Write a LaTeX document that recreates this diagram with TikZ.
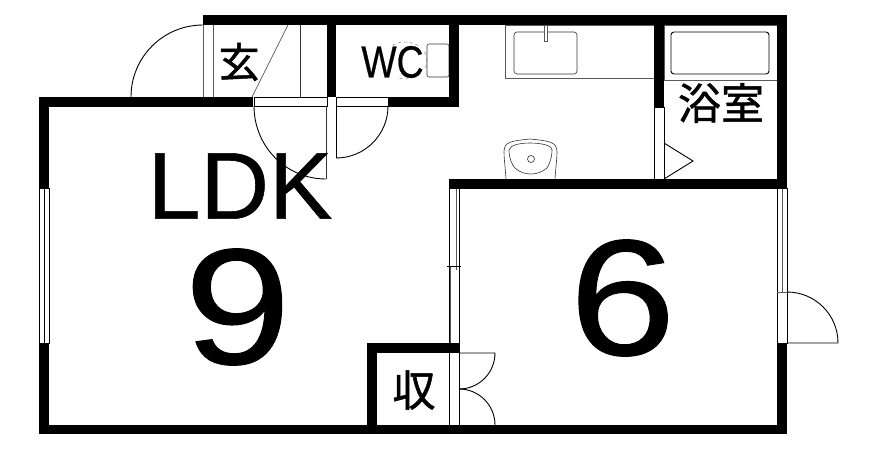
\documentclass[tikz,border=0pt]{standalone}
\usepackage{fontspec}
\setmainfont[FakeBold=0.6]{Liberation Sans}
\newfontfamily\cjkfont[FakeBold=1.2]{Noto Sans CJK JP}
\tikzset{
	wall/.style={fill=black,draw=none},
	thinline/.style={draw=black,line width=0.9pt},
	greyline/.style={draw=black!65,line width=0.9pt},
	fine/.style={draw=black!80,line width=0.6pt},
	roomname/.style={inner sep=0,font=\cjkfont\fontsize{#1}{#1}\selectfont},
	bigtext/.style={inner sep=0,font=\addfontfeature{FakeBold=0.6}\fontsize{#1}{#1}\selectfont}
}
\begin{document}
\begin{tikzpicture}[x=1pt,y=-1pt]
\useasboundingbox (0,0) rectangle (879,451);

% openings
\draw [thinline] (39,188) rectangle (49,343);
\draw [thinline] (44,188) -- (44,343);
\draw [greyline] (203,25) -- (203,97);
\draw [greyline] (213,25) -- (213,97);
\draw [thinline] (254,97) rectangle (327,106);
\draw [thinline] (336,97) rectangle (388,106);
\draw [thinline] (777,188) rectangle (787,343);
\draw [greyline] (782,188) -- (782,292);
\draw [greyline] (777,292) -- (787,292);
\draw [thinline] (449,189) -- (449,425);
\draw [thinline] (459,189) -- (459,425);
\draw [greyline] (450.5,266) -- (450.5,343);
\draw [greyline] (456,189) -- (456,270);
\draw [thinline] (447,266) -- (461,266);
\draw [thinline] (654,107) rectangle (664,179);

% doors
\draw [thinline] (131,97) -- (203,97);
\draw [thinline] (131,97) to [out=90,in=180] (203,25);
\draw [fine] (288,25) -- (252,97);
\draw [fine] (300,25) -- (300,97);
\draw [fine] (326,106) -- (326,179);
\draw [thinline] (254,106) to [out=270,in=180] (326,179);
\draw [thinline] (336,106) -- (336,158);
\draw [thinline] (336,158) to [out=0,in=270] (388,106);
\draw [thinline] (664,143) -- (693,161) -- (664,179);
\draw [thinline] (787,292) to [out=0,in=90] (838,343) -- (787,343);
\draw [thinline] (459,353) -- (495,353) to [out=270,in=0] (459,389);
\draw [thinline] (495,425) to [out=90,in=0] (459,389);

% kitchen and bath fittings
\draw [greyline] (505,25) rectangle (654,78);
\draw [fine,rounded corners=3pt] (514,32) rectangle (577,74);
\draw [greyline,fill=white] (544,25) rectangle (547,41);
\draw [greyline] (664,25) rectangle (777,80);
\draw [thinline,rounded corners=3pt] (671,32) rectangle (769,74);
\draw [fine] (506,179) .. controls (505,165) and (504,158) .. (504,152) .. controls (504,142) and (510,141) .. (530,139) .. controls (550,141) and (557,142) .. (557,152) .. controls (557,158) and (556,165) .. (555,179);
\draw [fine] (509,150) .. controls (510,145) and (520,143) .. (530,143) .. controls (540,143) and (552,145) .. (552,150) .. controls (552,158) and (549,165) .. (547,168) .. controls (542,172) and (537,174) .. (531,174) .. controls (525,174) and (519,172) .. (515,168) .. controls (512,165) and (509,158) .. (509,150);
\draw [fine] (531,159) circle (3.5pt);
\draw [fine,rounded corners=2pt] (427,44) rectangle (449,77);
\draw [draw=black!60,line width=0.4pt,dashed] (405,60.5) ellipse [x radius=22pt,y radius=18.5pt];

% walls
\fill [wall] (203,15) rectangle (787,25);
\fill [wall] (777,15) rectangle (787,188);
\fill [wall] (777,343) rectangle (787,434);
\fill [wall] (39,425) rectangle (787,434);
\fill [wall] (39,97) rectangle (49,188);
\fill [wall] (39,343) rectangle (49,434);
\fill [wall] (39,97) rectangle (253,107);
\fill [wall] (327,15) rectangle (336,97);
\fill [wall] (449,15) rectangle (459,107);
\fill [wall] (388,97) rectangle (459,107);
\fill [wall] (654,15) rectangle (664,107);
\fill [wall] (449,179) rectangle (787,189);
\fill [wall] (367,343) rectangle (459,353);
\fill [wall] (367,343) rectangle (377,434);

% room names
\node [bigtext=95] (ldk) at (240,186) {LDK};
\node [bigtext=165] (nine) at (237.5,307) {\scalebox{1.16}[1]{9}};
\node [bigtext=165] (six) at (622.5,298) {\scalebox{1.16}[1]{6}};
\node [bigtext=45,fill=white,inner sep=0] (wc) at (392.5,62) {\scalebox{0.83}[1]{WC}};
\node [roomname=41] (genkan) at (239,62) {玄};
\node [roomname=43] (bath) at (721,103) {浴室};
\node [roomname=43] (storage) at (414,390) {収};
\end{tikzpicture}
\end{document}
